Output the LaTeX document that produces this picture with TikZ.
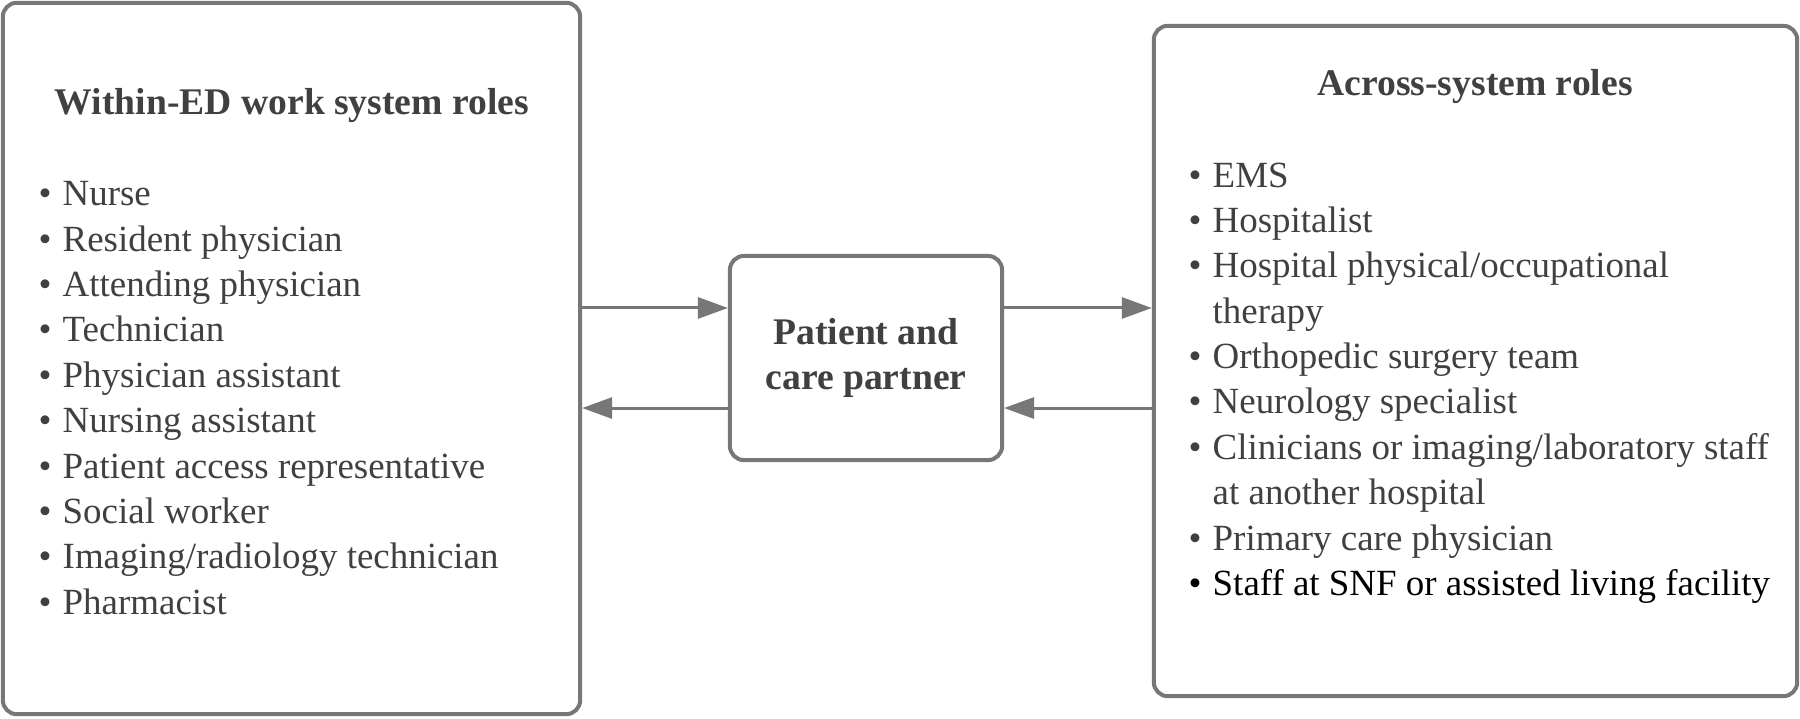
\documentclass[tikz,border=0pt]{standalone}
\usepackage{fontspec}
\setmainfont{Liberation Serif}
\usetikzlibrary{positioning,arrows.meta}
\definecolor{boxgray}{HTML}{777777}
\definecolor{txtgray}{HTML}{404040}
\tikzstyle{panel}=[draw=boxgray, line width=0.04cm, rounded corners=0.14cm, inner sep=0pt]
\tikzstyle{head}=[font=\fontsize{10.7}{12.9}\selectfont\bfseries, text=txtgray, inner sep=0pt, align=center]
\tikzstyle{roles}=[font=\fontsize{10.5}{12.9}\selectfont, text=txtgray, align=left, inner sep=0pt, anchor=north west]
\tikzstyle{flow}=[draw=boxgray, line width=0.03cm, -{Triangle[length=0.3cm,width=0.21cm]}]
\newcommand{\role}[1]{\makebox[0.24cm][l]{\textbullet}#1}

\begin{document}
\begin{tikzpicture}[x=0.01cm, y=-0.01cm]
				\useasboundingbox (0,0) rectangle (1800,718);
				% the three boxes
				\node[panel, minimum width=5.77cm, minimum height=7.11cm] (within) at (291.5, 358.5) {};
				\node[panel, minimum width=2.72cm, minimum height=2.04cm] (patient) at (866, 358) {};
				\node[panel, minimum width=6.43cm, minimum height=6.70cm] (across) at (1475.5, 361) {};
				
				\node[head] (withinhead) at (292, 106) {Within-ED work system roles};
				\node[head] (acrosshead) at (1475, 87) {Across-system roles};
				\node[head] (patienttext) at (patient.center) {Patient and\\care partner};
				
				\node[roles] (withinlist) at (38, 181) {%
					\role{Nurse}\\
					\role{Resident physician}\\
					\role{Attending physician}\\
					\role{Technician}\\
					\role{Physician assistant}\\
					\role{Nursing assistant}\\
					\role{Patient access representative}\\
					\role{Social worker}\\
					\role{Imaging/radiology technician}\\
					\role{Pharmacist}};
				\node[roles] (acrosslist) at (1188, 162) {%
					\role{EMS}\\
					\role{Hospitalist}\\
					\role{Hospital physical/occupational}\\
					\hspace{0.24cm}therapy\\
					\role{Orthopedic surgery team}\\
					\role{Neurology specialist}\\
					\role{Clinicians or imaging/laboratory staff}\\
					\hspace{0.24cm}at another hospital\\
					\role{Primary care physician}\\
					{\color{black}\role{Staff at SNF or assisted living facility}}};
				
				% arrows
				\draw[flow] ([yshift=0.5cm]patient.west -| within.east) -- ([yshift=0.5cm]patient.west);
				\draw[flow] ([yshift=-0.5cm]patient.west) -- ([yshift=-0.5cm]patient.west -| within.east);
				\draw[flow] ([yshift=0.5cm]patient.east) -- ([yshift=0.5cm]patient.east -| across.west);
				\draw[flow] ([yshift=-0.5cm]patient.east -| across.west) -- ([yshift=-0.5cm]patient.east);
			\end{tikzpicture}
\end{document}
